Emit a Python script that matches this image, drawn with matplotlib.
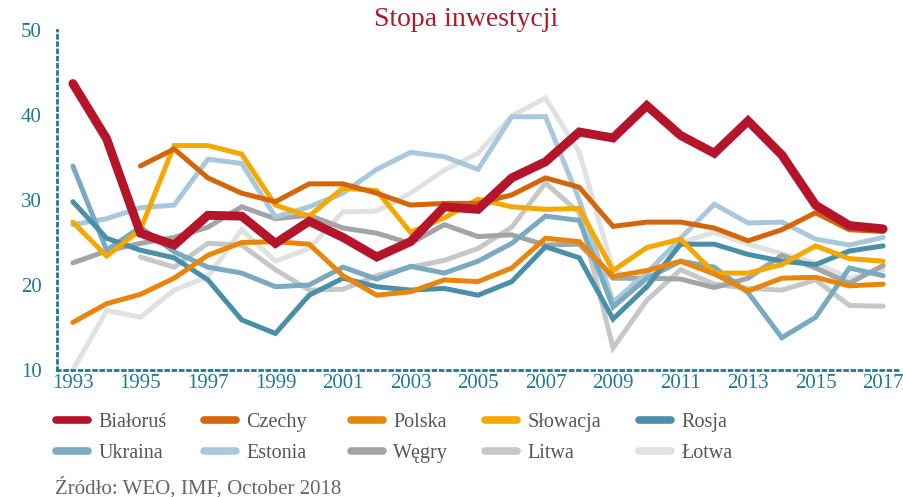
import matplotlib.pyplot as plt
import numpy as np

nan = np.nan
lata = list(range(1993, 2018))

bialorus = [43.7, 37.2, 26.1, 24.7, 28.2, 28.1, 24.9, 27.5, 25.6, 23.3, 25.1, 29.2, 28.9,
            32.6, 34.5, 38.0, 37.3, 41.1, 37.6, 35.5, 39.3, 35.3, 29.4, 27.0, 26.6]
czechy = [nan, nan, 34.0, 36.0, 32.6, 30.8, 29.8, 31.9, 31.9, 30.8, 29.4, 29.6, 29.6,
          30.6, 32.6, 31.5, 26.9, 27.4, 27.4, 26.7, 25.2, 26.5, 28.5, 26.5, 26.3]
polska = [15.6, 17.8, 18.9, 20.8, 23.5, 25.0, 25.1, 24.8, 21.1, 18.8, 19.2, 20.6, 20.4,
          22.0, 25.5, 25.1, 21.0, 21.7, 22.8, 21.3, 19.3, 20.8, 20.9, 19.9, 20.1]
slowacja = [27.4, 23.4, 26.5, 36.4, 36.4, 35.4, 29.4, 28.1, 31.4, 31.1, 26.2, 27.9, 30.1,
            29.2, 28.9, 29.0, 21.7, 24.4, 25.4, 21.4, 21.4, 22.4, 24.6, 23.1, 22.8]
rosja = [29.8, 25.5, 24.1, 23.2, 20.6, 15.9, 14.3, 18.8, 20.8, 19.8, 19.4, 19.6, 18.8,
         20.4, 24.5, 23.2, 16.0, 19.8, 24.8, 24.8, 23.6, 22.8, 22.4, 24.0, 24.6]
ukraina = [34.0, 24.1, 26.8, 23.9, 22.1, 21.4, 19.8, 20.0, 22.1, 20.7, 22.2, 21.4, 22.8,
           24.9, 28.1, 27.6, 17.4, 20.8, 22.8, 22.1, 19.1, 13.8, 16.2, 22.0, 21.1]
estonia = [27.1, 27.8, 29.1, 29.4, 34.8, 34.3, 28.0, 29.2, 30.8, 33.6, 35.6, 35.1, 33.6,
           39.8, 39.8, 30.0, 18.0, 21.4, 25.5, 29.5, 27.3, 27.4, 25.4, 24.7, 25.6]
wegry = [22.6, 24.0, 24.9, 25.6, 26.8, 29.2, 27.8, 28.2, 26.7, 26.1, 24.9, 27.1, 25.7,
         25.9, 24.7, 24.8, 20.8, 20.8, 20.7, 19.7, 20.8, 23.5, 22.0, 20.2, 22.3]
litwa = [nan, nan, 23.3, 22.1, 24.9, 24.7, 21.8, 19.4, 19.5, 21.1, 22.1, 22.9, 24.3,
         26.8, 32.0, 28.5, 12.6, 18.2, 21.8, 20.1, 19.6, 19.4, 20.6, 17.6, 17.5]
lotwa = [10.0, 17.0, 16.2, 19.4, 21.0, 26.5, 22.8, 24.3, 28.6, 28.7, 30.8, 33.5, 35.5,
         39.9, 42.0, 35.6, 21.8, 19.6, 25.0, 26.2, 24.8, 23.7, 22.6, 20.8, 21.8]

kraje = ['Białoruś', 'Czechy', 'Polska', 'Słowacja', 'Rosja',
         'Ukraina', 'Estonia', 'Węgry', 'Litwa', 'Łotwa']
serie = [bialorus, czechy, polska, slowacja, rosja,
         ukraina, estonia, wegry, litwa, lotwa]
kolory = ['#B5152B', '#D4650A', '#E8850C', '#F5A800', '#4A8FA9',
          '#7AAAC2', '#A9C8DB', '#A2A5A8', '#C6C7C9', '#DFE2E2']

teal = '#1F7A93'
plt.rcParams['font.family'] = ['Liberation Serif', 'DejaVu Serif']

fig = plt.figure(figsize=(9.04, 4.97), dpi=100)
ax = fig.add_axes([57 / 904, 127 / 497, 843 / 904, 340 / 497])

linie = {}
# rysujemy od końca, żeby Białoruś była na wierzchu
for nazwa, dane, kolor in reversed(list(zip(kraje, serie, kolory))):
    lw = 6.4 if nazwa == 'Białoruś' else 3.6
    ln, = ax.plot(lata, dane, color=kolor, lw=lw, solid_capstyle='round',
                  solid_joinstyle='miter', clip_on=False)
    linie[nazwa] = ln

ax.set_xlim(1992.53, 2017.5)
ax.set_ylim(10, 50)
ax.set_xticks(range(1993, 2018, 2))
ax.set_yticks(range(10, 51, 10))
ax.tick_params(length=0, colors=teal, labelsize=15)
ax.tick_params(axis='y', pad=11)
ax.tick_params(axis='x', pad=3)
for s in ['top', 'right']:
    ax.spines[s].set_visible(False)
for s in ['left', 'bottom']:
    ax.spines[s].set_color(teal)
    ax.spines[s].set_linewidth(2)
    ax.spines[s].set_linestyle((0, (1, 1.6)))
ax.set_facecolor('none')

fig.text(466 / 904, 1 - 20 / 497, 'Stopa inwestycji', color='#B5152B',
         fontsize=20, ha='center', va='center')

# legenda w kolumnach
kol_x = [56, 204, 351, 485, 639]
for i, x in enumerate(kol_x):
    uchwyty = [linie[kraje[i]], linie[kraje[i + 5]]]
    leg = fig.legend(uchwyty, [kraje[i], kraje[i + 5]], loc='upper left',
                     bbox_to_anchor=(x / 904, 1 - 413 / 497), frameon=False,
                     fontsize=14.5, handlelength=1.6, handletextpad=0.5,
                     labelspacing=0.6, borderpad=0, borderaxespad=0)
    for t in leg.get_texts():
        t.set_color('#555555')
    for h in leg.legend_handles:
        h.set_linewidth(5.5)

fig.text(55 / 904, 1 - 488 / 497, 'Źródło: WEO, IMF, October 2018', color='#666666',
         fontsize=15, ha='left', va='center')

fig.savefig('out.png', dpi=100)
